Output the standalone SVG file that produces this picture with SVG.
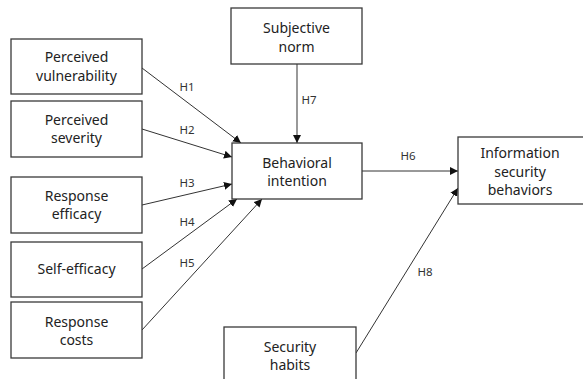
<svg xmlns="http://www.w3.org/2000/svg" width="583" height="379" viewBox="0 0 583 379">
<style>
.box{fill:#fff;stroke:#3a3a3a;stroke-width:1.3}
.t{font-family:"Noto Sans","Liberation Sans",sans-serif;font-size:14px;fill:#222;text-anchor:middle}
.l{font-family:"Noto Sans","Liberation Sans",sans-serif;font-size:11.5px;fill:#333;text-anchor:middle}
.c{stroke:#333;stroke-width:1;fill:none;marker-end:url(#ah)}
</style>
<defs>
<marker id="ah" viewBox="0 0 10 10" refX="10" refY="5" markerWidth="8" markerHeight="8" markerUnits="userSpaceOnUse" orient="auto">
<path d="M0,0 L10,5 L0,10 z" fill="#111"/>
</marker>
</defs>
<rect width="583" height="379" fill="#fff"/>
<g id="connectors">
<line class="c" x1="142" y1="68" x2="241" y2="143"/>
<line class="c" x1="142" y1="129" x2="232" y2="157"/>
<line class="c" x1="142" y1="205" x2="232" y2="184"/>
<line class="c" x1="142" y1="269" x2="237" y2="199"/>
<line class="c" x1="142" y1="330" x2="262" y2="199"/>
<line class="c" x1="297" y1="64" x2="297" y2="143" style="stroke:#808080;stroke-width:1.6"/>
<line class="c" x1="362" y1="171" x2="458" y2="171"/>
<line class="c" x1="356" y1="353" x2="458" y2="188"/>
<text class="l" x="187" y="91">H1</text>
<text class="l" x="187" y="134">H2</text>
<text class="l" x="187" y="187">H3</text>
<text class="l" x="187" y="226">H4</text>
<text class="l" x="187" y="267">H5</text>
<text class="l" x="408" y="160">H6</text>
<text class="l" x="309" y="104">H7</text>
<text class="l" x="425" y="276">H8</text>
</g>
<g id="n-pv"><rect class="box" x="11" y="39" width="131" height="55"/><text class="t" x="76.5" y="62">Perceived</text><text class="t" x="76.5" y="81">vulnerability</text></g>
<g id="n-ps"><rect class="box" x="11" y="101" width="131" height="56"/><text class="t" x="76.5" y="125">Perceived</text><text class="t" x="76.5" y="143">severity</text></g>
<g id="n-re"><rect class="box" x="11" y="177" width="131" height="56"/><text class="t" x="76.5" y="201">Response</text><text class="t" x="76.5" y="219">efficacy</text></g>
<g id="n-se"><rect class="box" x="11" y="242" width="131" height="55"/><text class="t" x="76.5" y="274">Self-efficacy</text></g>
<g id="n-rc"><rect class="box" x="11" y="302" width="131" height="56"/><text class="t" x="76.5" y="327">Response</text><text class="t" x="76.5" y="345">costs</text></g>
<g id="n-sn"><rect class="box" x="231" y="8" width="131" height="56"/><text class="t" x="296.5" y="33">Subjective</text><text class="t" x="296.5" y="52">norm</text></g>
<g id="n-bi"><rect class="box" x="232" y="143" width="130" height="56"/><text class="t" x="297" y="168">Behavioral</text><text class="t" x="297" y="186">intention</text></g>
<g id="n-isb"><rect class="box" x="458" y="137" width="130" height="67"/><text class="t" x="520" y="158">Information</text><text class="t" x="520" y="177">security</text><text class="t" x="520" y="195">behaviors</text></g>
<g id="n-sh"><rect class="box" x="224" y="327" width="132" height="60"/><text class="t" x="290" y="352">Security</text><text class="t" x="290" y="370">habits</text></g>
</svg>
